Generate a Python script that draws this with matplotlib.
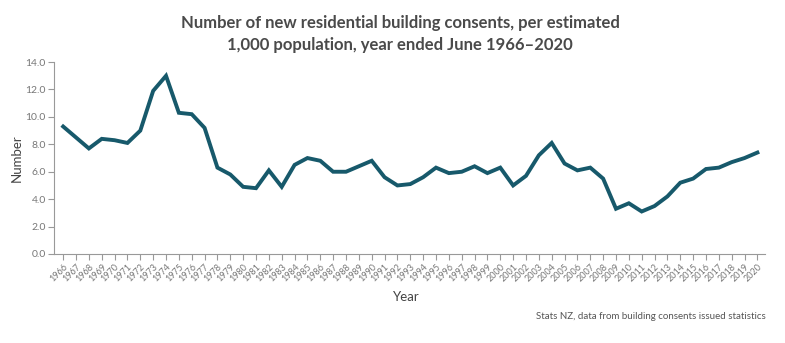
import numpy as np
import matplotlib.pyplot as plt

plt.rcParams['font.family'] = ['Lato', 'DejaVu Sans']

years = list(range(1966, 2021))
consents = [9.3, 8.5, 7.7, 8.4, 8.3, 8.1, 9.0, 11.9, 13.0, 10.3,
            10.2, 9.2, 6.3, 5.8, 4.9, 4.8, 6.1, 4.9, 6.5, 7.0,
            6.8, 6.0, 6.0, 6.4, 6.8, 5.6, 5.0, 5.1, 5.6, 6.3,
            5.9, 6.0, 6.4, 5.9, 6.3, 5.0, 5.7, 7.2, 8.1, 6.6,
            6.1, 6.3, 5.5, 3.3, 3.7, 3.1, 3.5, 4.2, 5.2, 5.5,
            6.2, 6.3, 6.7, 7.0, 7.4]
yticks = [0, 2, 4, 6, 8, 10, 12, 14]

text_col = "#444444"
axis_col = "#999999"

fig = plt.figure(figsize=(7.85, 3.43), dpi=100)
ax = fig.add_axes([0.069, 0.2595, 0.906, 0.5595])

ax.plot(years, consents, color="#17596b", lw=2.8, solid_joinstyle="miter")

ax.set_xlim(1966 - 0.7, 2020 + 0.62)
ax.set_ylim(0, 14)
ax.set_yticks(yticks)
ax.set_yticklabels(["%.1f" % v for v in yticks], fontsize=7.5, color="#777777")
ax.set_xticks(years)
ax.set_xticklabels([str(y) for y in years], rotation=45, ha="right",
                   rotation_mode="anchor", fontsize=6.5, color="#777777")
ax.tick_params(axis="both", color=axis_col, length=4, width=0.8, pad=2)

for s in ["top", "right"]:
    ax.spines[s].set_visible(False)
for s in ["left", "bottom"]:
    ax.spines[s].set_color(axis_col)
    ax.spines[s].set_linewidth(0.8)

ax.set_ylabel("Number", fontsize=9.5, color=text_col, labelpad=2)
fig.text(0.518, 0.135, "Year", fontsize=9.5, color=text_col, ha="center", va="center")

fig.text(0.51, 0.902, "Number of new residential building consents, per estimated\n"
         "1,000 population, year ended June 1966\u20132020",
         fontsize=12, fontweight="bold", color="#4a4a4a", ha="center", va="center",
         linespacing=1.45)
fig.text(0.975, 0.078, "Stats NZ, data from building consents issued statistics",
         fontsize=7, color="#555555", ha="right", va="center")

fig.savefig("out.png", dpi=100)
